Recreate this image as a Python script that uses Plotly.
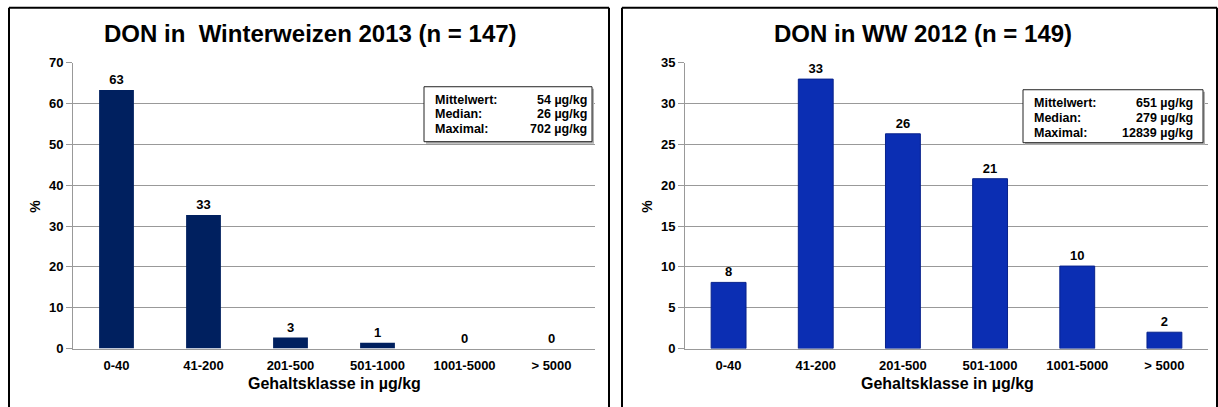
import plotly.graph_objects as go

categories = ["0-40", "41-200", "201-500", "501-1000", "1001-5000", "> 5000"]
values_2013 = [63.3, 32.7, 2.7, 1.4, 0.0, 0.0]
values_2012 = [8.1, 33.0, 26.3, 20.8, 10.1, 2.0]
title_2013 = "DON in  Winterweizen 2013 (n = 147)"
title_2012 = "DON in WW 2012 (n = 149)"
stat_labels = ["Mittelwert:", "Median:", "Maximal:"]
stats_2013 = ["54 µg/kg", "26 µg/kg", "702 µg/kg"]
stats_2012 = ["651 µg/kg", "279 µg/kg", "12839 µg/kg"]
x_title = "Gehaltsklasse in µg/kg"
y_title = "%"

W, H = 1218, 407
FONT = "Liberation Sans, Arial, sans-serif"

# the photographed page shows the figure's vertical extent in a slightly
# smaller band; these two numbers map wanted screen rows to paper fractions
Y_OFF, Y_SPAN = 6.2, 392.3


def X(px):
    return px / W


def Y(py):
    return 1 - (py - Y_OFF) / Y_SPAN


fig = go.Figure()
fig.add_trace(go.Bar(
    x=categories, y=values_2013, xaxis="x", yaxis="y",
    marker=dict(color="#00205f", line=dict(width=0)),
    texttemplate="%{y:.0f}", textposition="outside", cliponaxis=False,
    textfont=dict(family=FONT, size=13, color="black", weight="bold"),
    showlegend=False,
))
fig.add_trace(go.Bar(
    x=categories, y=values_2012, xaxis="x2", yaxis="y2",
    marker=dict(color="#0b2eb3", line=dict(color="#08228c", width=1)),
    texttemplate="%{y:.0f}", textposition="outside", cliponaxis=False,
    textfont=dict(family=FONT, size=13, color="black", weight="bold"),
    showlegend=False,
))

axis_common = dict(
    showline=True, linecolor="#999999", linewidth=1,
    tickfont=dict(family=FONT, size=13, color="black", weight="bold"),
)

shapes = []
# panel borders (open at the bottom, as in the reference)
for x0, x1 in [(9, 609), (622, 1217)]:
    shapes.append(dict(type="line", xref="paper", yref="paper", x0=X(x0), x1=X(x1), y0=Y(7), y1=Y(7),
                       line=dict(color="black", width=2)))
    for xx in (x0, x1):
        shapes.append(dict(type="line", xref="paper", yref="paper", x0=X(xx), x1=X(xx),
                           y0=Y(420), y1=Y(7), line=dict(color="black", width=2)))

annotations = []
boxes = [
    dict(box=(424, 592, 86, 141), lx=433, vx=589, ys=[99, 113.5, 128], vals=stats_2013),
    dict(box=(1023, 1203, 89, 142), lx=1032, vx=1195, ys=[102.5, 117.5, 132.5], vals=stats_2012),
]
for b in boxes:
    x0, x1, y0, y1 = b["box"]
    shapes.append(dict(type="rect", xref="paper", yref="paper",
                       x0=X(x0 + 2), x1=X(x1 + 2), y0=Y(y1 + 2), y1=Y(y0 + 2),
                       line=dict(width=0), fillcolor="#b0b0b0"))
    shapes.append(dict(type="rect", xref="paper", yref="paper",
                       x0=X(x0), x1=X(x1), y0=Y(y1), y1=Y(y0),
                       line=dict(color="#222222", width=1), fillcolor="white"))
    for lab, val, yy in zip(stat_labels, b["vals"], b["ys"]):
        annotations.append(dict(text=lab, xref="paper", yref="paper", x=X(b["lx"]), y=Y(yy),
                                xanchor="left", yanchor="middle", showarrow=False,
                                font=dict(family=FONT, size=12.5, color="black", weight="bold")))
        annotations.append(dict(text=val, xref="paper", yref="paper", x=X(b["vx"]), y=Y(yy),
                                xanchor="right", yanchor="middle", showarrow=False,
                                font=dict(family=FONT, size=12.5, color="black", weight="bold")))

for txt, cx in [(title_2013, 310), (title_2012, 923)]:
    annotations.append(dict(text=txt, xref="paper", yref="paper", x=X(cx), y=Y(33),
                            xanchor="center", yanchor="middle", showarrow=False,
                            font=dict(family=FONT, size=24, color="black", weight="bold")))
for cx in [334, 947]:
    annotations.append(dict(text=x_title, xref="paper", yref="paper", x=X(cx), y=Y(383),
                            xanchor="center", yanchor="middle", showarrow=False,
                            font=dict(family=FONT, size=16, color="black", weight="bold")))
for cx in [35, 647]:
    annotations.append(dict(text=y_title, xref="paper", yref="paper", x=X(cx), y=Y(206),
                            xanchor="center", yanchor="middle", showarrow=False, textangle=-90,
                            font=dict(family=FONT, size=14, color="black", weight="bold")))

fig.update_layout(
    width=W, height=H, margin=dict(l=0, r=0, t=0, b=0),
    paper_bgcolor="white", plot_bgcolor="white",
    bargap=0.6,
    font=dict(family=FONT, color="black"),
    xaxis=dict(domain=[X(73), X(595)], anchor="y", ticks="", ticklabelstandoff=5, **axis_common),
    yaxis=dict(domain=[Y(348), Y(62)], anchor="x", range=[0, 70], dtick=10,
               ticks="outside", ticklen=6, tickcolor="#999999",
               showgrid=True, gridcolor="#999999", gridwidth=1, zeroline=False, **axis_common),
    xaxis2=dict(domain=[X(685), X(1208)], anchor="y2", ticks="", ticklabelstandoff=5, **axis_common),
    yaxis2=dict(domain=[Y(348), Y(62)], anchor="x2", range=[0, 35], dtick=5,
                ticks="outside", ticklen=6, tickcolor="#999999",
                showgrid=True, gridcolor="#999999", gridwidth=1, zeroline=False, **axis_common),
    shapes=shapes,
    annotations=annotations,
)

fig.write_html("out.html")
